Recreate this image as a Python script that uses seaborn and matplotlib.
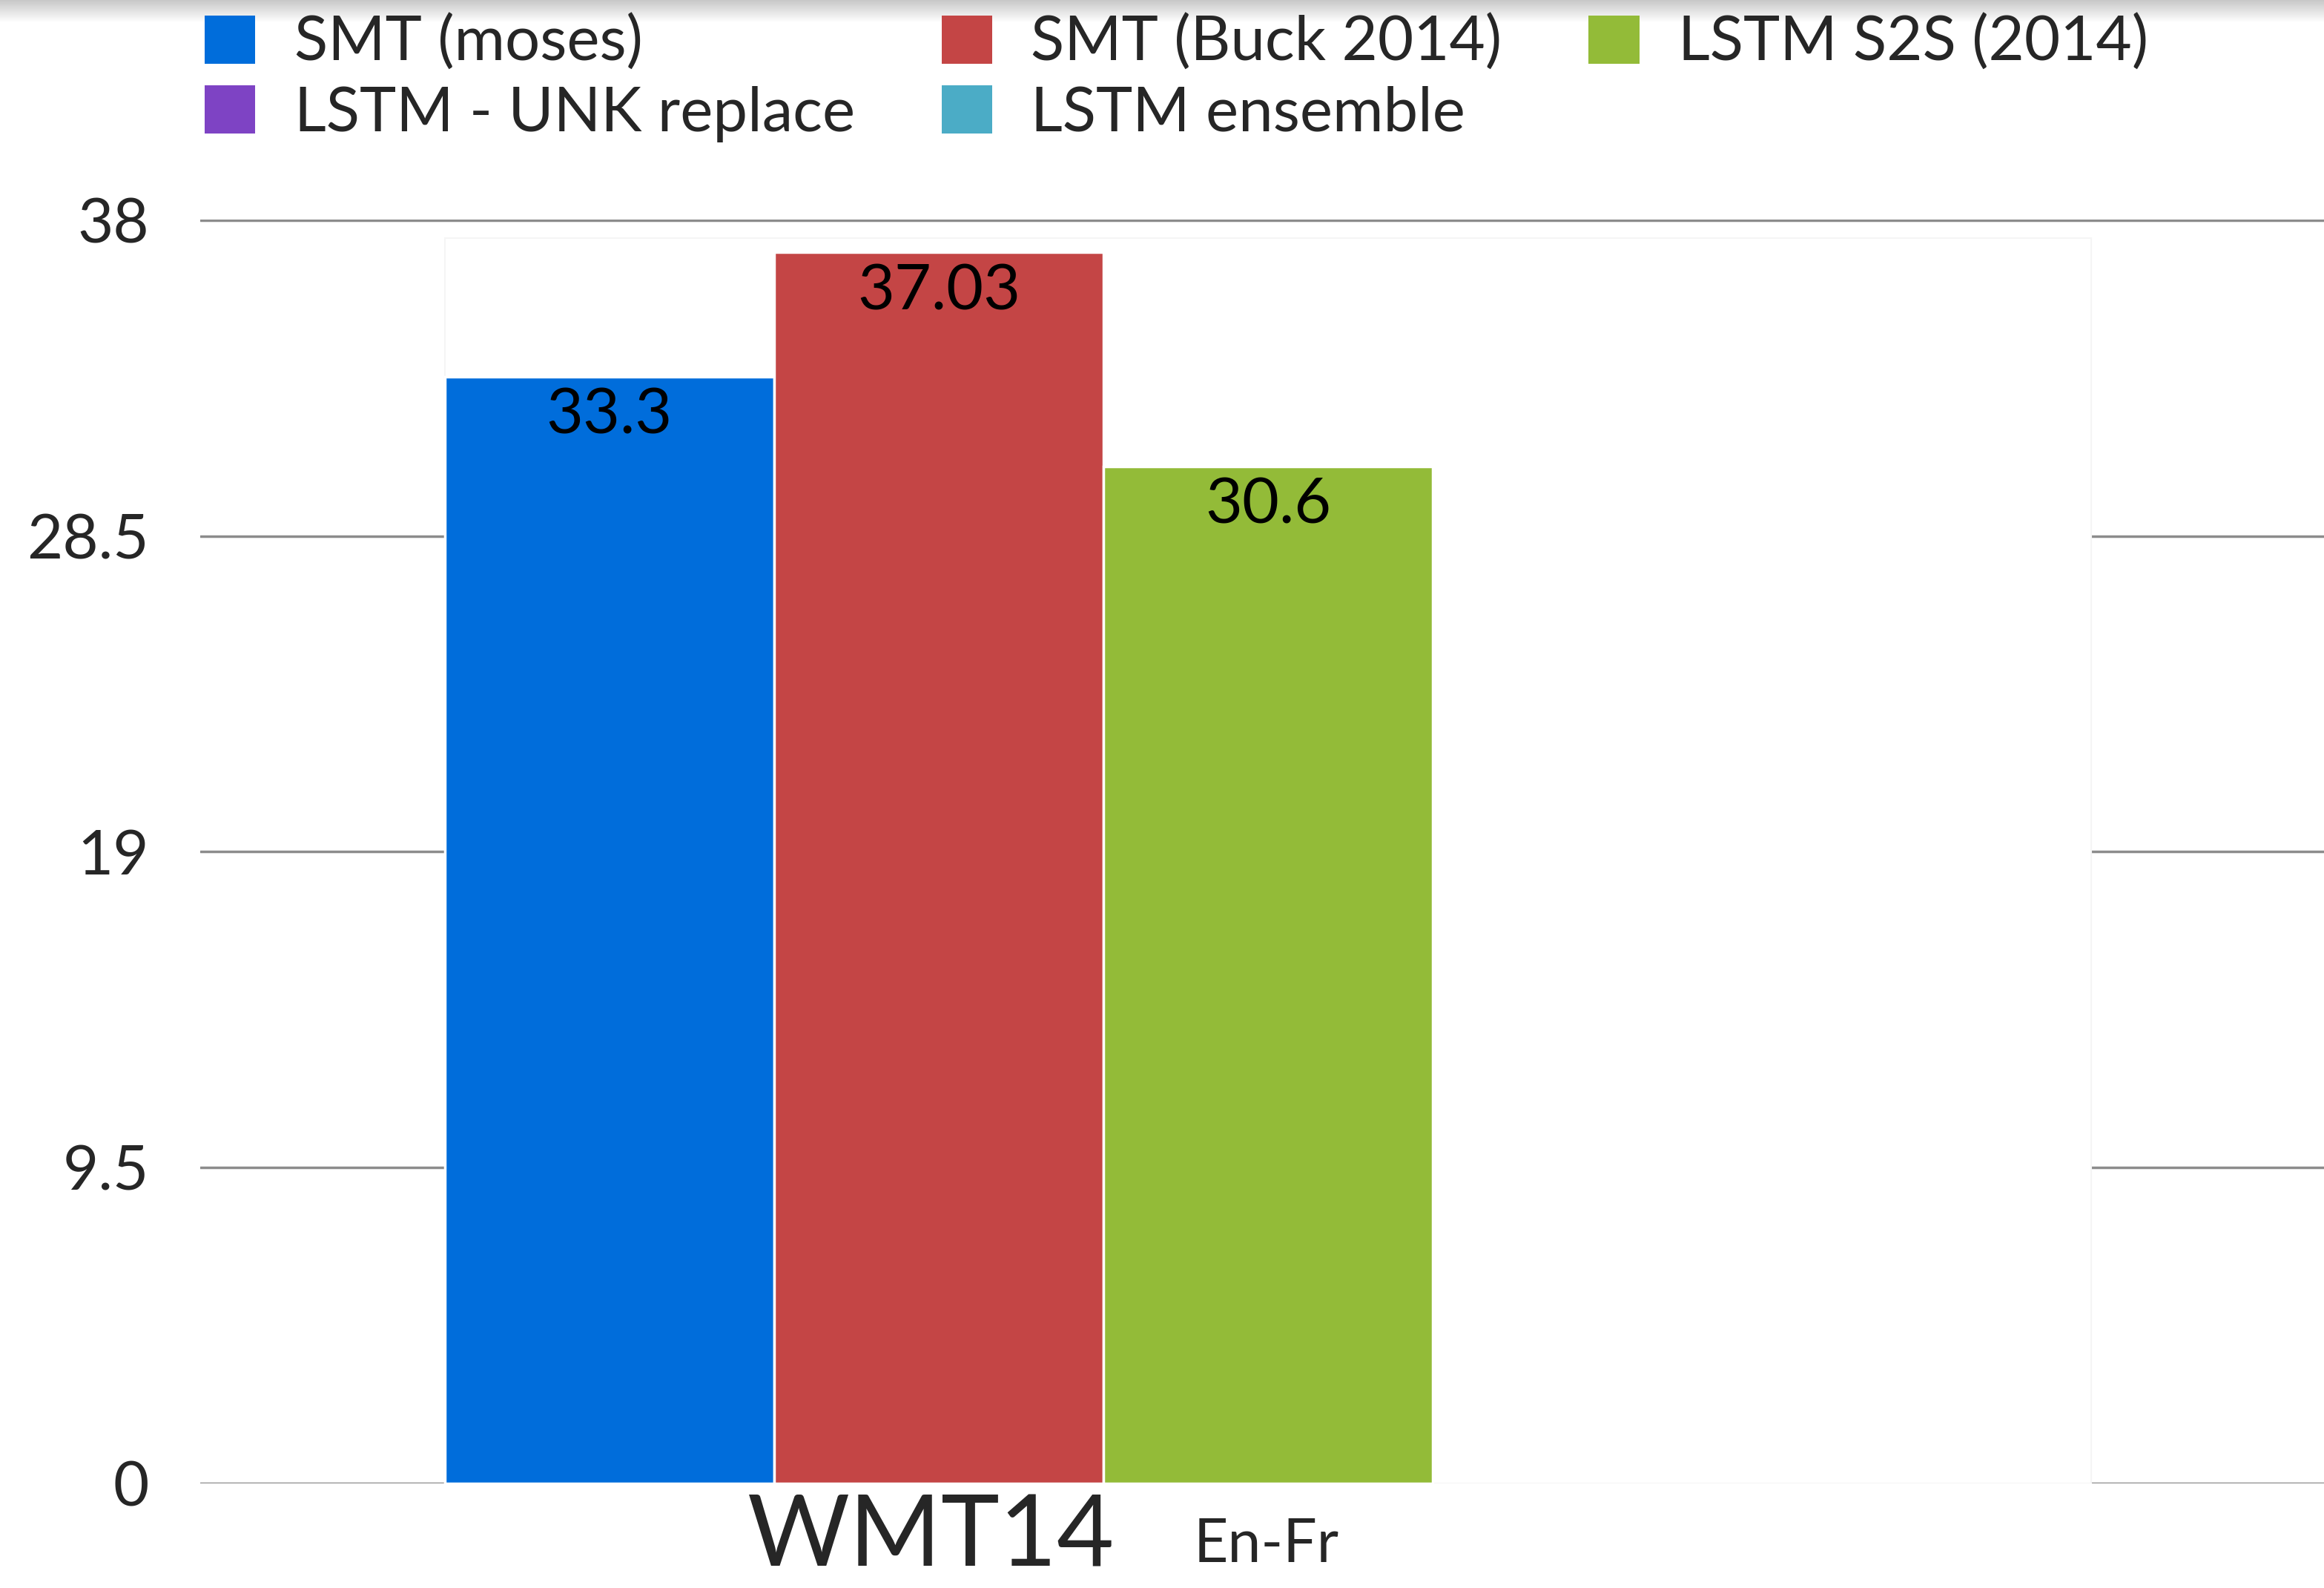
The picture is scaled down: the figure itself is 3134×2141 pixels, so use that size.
import matplotlib
matplotlib.use("Agg")
import matplotlib.pyplot as plt
import seaborn as sns
import pandas as pd
import numpy as np
from matplotlib.patches import Patch, Rectangle
from matplotlib.colors import LinearSegmentedColormap, to_rgba

# ---- data ----
datasets = ["WMT14"]
systems = ["SMT (moses)", "SMT (Buck 2014)", "LSTM S2S (2014)",
           "LSTM - UNK replace", "LSTM ensemble"]
bleu = [33.3, 37.03, 30.6, np.nan, np.nan]
bleu_labels = ["33.3", "37.03", "30.6", "", ""]
yticks = [0, 9.5, 19, 28.5, 38]
ytick_labels = ["0", "9.5", "19", "28.5", "38"]
colors = ["#006ddb", "#c44545", "#93bb38", "#7e43c4", "#4bacc6"]

sns.set_style("white")
plt.rcParams["font.family"] = ["Lato", "DejaVu Sans"]

df = pd.DataFrame({"dataset": datasets * len(systems), "system": systems, "bleu": bleu})

W, H = 3134, 2141
fig = plt.figure(figsize=(W / 100, H / 100), dpi=100)
ax = fig.add_axes([270 / W, 141 / H, 1 - 270 / W, 1704 / H])

sns.barplot(data=df, x="dataset", y="bleu", hue="system", hue_order=systems,
            palette=colors, saturation=1, width=1.0, dodge=True, ax=ax, legend=False,
            edgecolor="white", linewidth=2.5, zorder=3, errorbar=None)

# white panel behind the bars (hides gridlines)
ax.add_patch(Rectangle((-0.5, 0), 1.0, 37.47, facecolor="white",
                       edgecolor="#f5f5f5", linewidth=1.5, zorder=1))

ax.set_xlim(-0.6486, 0.6414)
ax.set_ylim(0, 38.02)
ax.set_yticks(yticks)
ax.set_yticklabels(ytick_labels)
ax.yaxis.grid(True, color="#8c8c8c", linewidth=2.5)
ax.xaxis.grid(False)
ax.set_axisbelow(True)
ax.tick_params(axis="y", length=0, pad=50, labelsize=60)
ax.set_xticks([])
ax.set_xlabel("")
ax.set_ylabel("")
for s in ax.spines.values():
    s.set_visible(False)

# value labels inside top of bars (match bars to systems by their colour)
rgba = [to_rgba(c) for c in colors]
for p in ax.patches:
    if not hasattr(p, "get_height") or p.get_zorder() != 3:
        continue
    h = p.get_height()
    if h is None or np.isnan(h) or h == 0:
        continue
    fc = p.get_facecolor()
    idx = int(np.argmin([sum((a - b) ** 2 for a, b in zip(fc[:3], c[:3])) for c in rgba]))
    ax.annotate(bleu_labels[idx], (p.get_x() + p.get_width() / 2, h),
                xytext=(0, -10), textcoords="offset points",
                ha="center", va="top", fontsize=62, color="black", zorder=5)

# category label
fig.text(1256 / W, 1 - 2112 / H, "WMT14", ha="center", va="baseline", fontsize=96)
fig.text(1610 / W, 1 - 2106 / H, "En-Fr", ha="left", va="baseline", fontsize=58)

# legend (row-wise order like reference)
order = [0, 3, 1, 4, 2]
handles = [Patch(facecolor=colors[i], edgecolor="none") for i in order]
labels = [systems[i] for i in order]
fig.legend(handles, labels, loc="upper left", bbox_to_anchor=(276 / W, 1 - 20 / H),
           ncol=3, frameon=False, fontsize=60, handlelength=0.82, handleheight=0.82,
           handletextpad=0.63, columnspacing=1.4, borderpad=0, borderaxespad=0,
           labelspacing=0.22)

# top shadow band
gax = fig.add_axes([0, 1 - 30 / H, 1, 30 / H])
cmap = LinearSegmentedColormap.from_list("g", ["#c8c8c8", "#ffffff"])
gax.imshow(np.linspace(0, 1, 64).reshape(-1, 1), aspect="auto", cmap=cmap)
gax.axis("off")

fig.savefig("out.png", dpi=100)
